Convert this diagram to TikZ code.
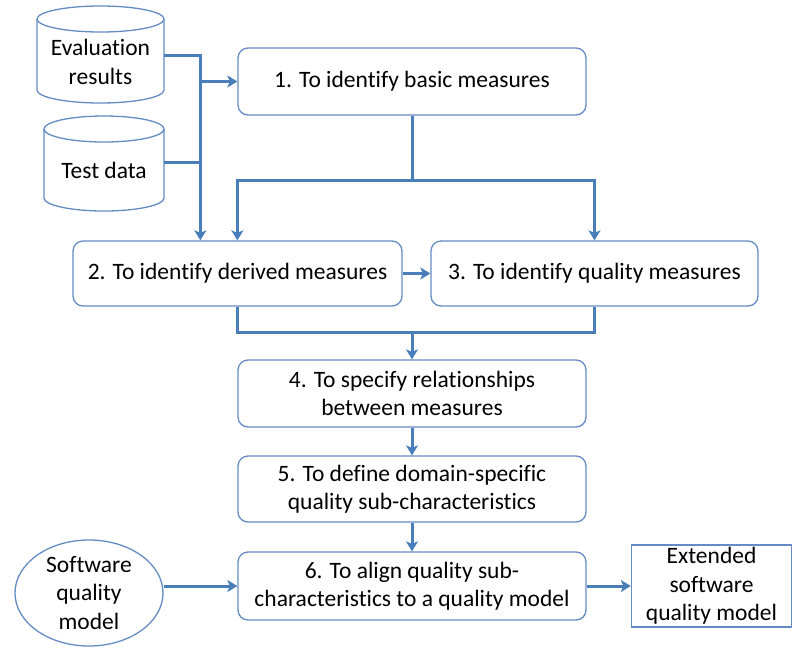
\documentclass[tikz,border=0pt]{standalone}
\usepackage{fontspec}
\setmainfont{Carlito}[Ligatures=NoCommon]
\usetikzlibrary{arrows.meta,calc,shapes.geometric}
\definecolor{edge}{RGB}{74,126,187}
\definecolor{frame}{RGB}{100,140,195}
\begin{document}
\begin{tikzpicture}[x=1pt,y=-1pt,
  every node/.style={font=\fontsize{23.5}{28.5}\selectfont, align=center, inner sep=0pt},
  stepbox/.style={draw=frame, line width=1.3pt, rounded corners=10pt, fill=white},
  dbline/.style={draw=frame, line width=1.3pt, fill=white},
  conn/.style={draw=edge, line width=3pt},
  arr/.style={conn, -{Stealth[length=10pt,width=12pt,inset=2.5pt]}},
]
\useasboundingbox (0,0) rectangle (793,649);

% data stores
\path[dbline] (37,19) -- (37,90) arc[start angle=180, end angle=360, x radius=63.5pt, y radius=13pt] -- (164,19);
\path[dbline] (100.5,19) ellipse [x radius=63.5pt, y radius=13pt];
\path[dbline] (44,129) -- (44,198) arc[start angle=180, end angle=360, x radius=60pt, y radius=13pt] -- (164,129);
\path[dbline] (104,129) ellipse [x radius=60pt, y radius=13pt];
\node[minimum width=127pt] (eval) at (100.5,62) {Evaluation\\results};
\node[minimum width=120pt] (test) at (104,170) {Test data};

% process steps
\node[stepbox, minimum width=348pt, minimum height=67pt] (b1) at (412,81.5) {1. To identify basic measures};
\node[stepbox, minimum width=329pt, minimum height=65pt] (b2) at (237.5,273.5) {2. To identify derived measures};
\node[stepbox, minimum width=327pt, minimum height=65pt] (b3) at (594.5,273.5) {3. To identify quality measures};
\node[stepbox, minimum width=348pt, minimum height=67pt] (b4) at (412,393.5) {4. To specify relationships\\between measures};
\node[stepbox, minimum width=348pt, minimum height=66pt] (b5) at (412,489) {5. To define domain-specific\\quality sub-characteristics};
\node[stepbox, minimum width=348pt, minimum height=68pt] (b6) at (412,586) {6. To align quality sub-\\characteristics to a quality model};

% model in / model out
\node[ellipse, draw=frame, line width=1.3pt, minimum width=148pt, minimum height=106pt] (sqm) at (89,593) {Software\\quality\\model};
\node[draw=frame, line width=1.3pt, minimum width=160pt, minimum height=82pt] (esqm) at (711.5,586) {Extended\\software\\quality model};

% inputs to steps 1 and 2
\coordinate (split) at (201,81.5);
\draw[arr] ([yshift=7pt]eval.east) -| ($(b2.north west)+(128,0)$);
\draw[arr] (split) -- (b1.west);
\draw[conn] ([yshift=8pt]test.east) -- ++(37,0);

% step 1 fans out to steps 2 and 3
\draw[conn] (b1.south) -- ++(0,65) coordinate (fork);
\draw[arr] (fork) -| (b3.north);
\draw[arr] (fork) -| (b1.west |- b2.north);
\draw[arr] (b2.east) -- (b3.west);

% steps 2 and 3 merge into step 4
\draw[conn] (b1.west |- b2.south) -- ++(0,26) coordinate (mleft) -| (b3.south);
\coordinate (merge) at (b4.north |- mleft);
\draw[arr] (merge) -- (b4.north);
\draw[arr] (b4.south) -- (b5.north);
\draw[arr] (b5.south) -- (b6.north);

% model alignment
\draw[arr] (sqm.east |- b6.west) -- (b6.west);
\draw[arr] (b6.east) -- (esqm.west);
\end{tikzpicture}
\end{document}
